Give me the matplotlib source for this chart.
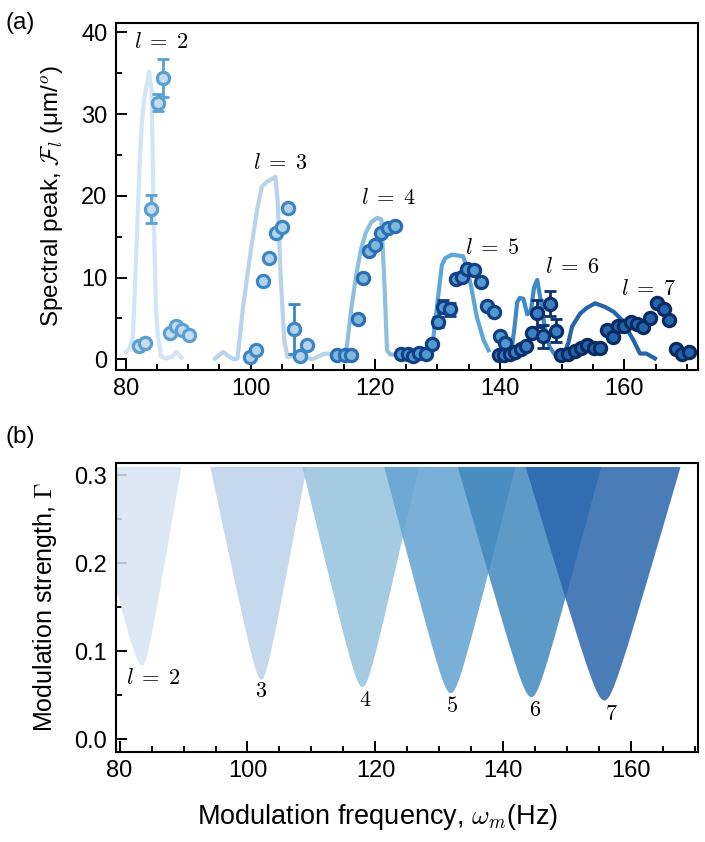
import numpy as np
import matplotlib
matplotlib.use('Agg')
import matplotlib.pyplot as plt
from matplotlib.ticker import MultipleLocator

plt.rcParams['font.family'] = ['Liberation Sans', 'DejaVu Sans']
plt.rcParams['mathtext.fontset'] = 'cm'

# ---- panel (a): measured spectral peaks (points) and simulation (lines)
orders = [2, 3, 4, 5, 6, 7]

line_x = {
    2: [80.0, 80.6, 81.1, 81.4, 81.8, 82.2, 82.6, 82.9, 83.7, 84.1, 84.4, 84.8, 85.1, 85.6, 86.3, 87.4, 88.1, 88.9],
    3: [94.3, 95.6, 96.4, 97.3, 97.9, 98.8, 99.9, 101.0, 101.8, 102.6, 104.0, 104.4, 104.8, 105.4, 105.9, 107.1, 108.5, 109.9, 111.9, 113.5],
    4: [114.3, 115.3, 116.2, 117.0, 117.7, 118.5, 119.4, 120.3, 121.0, 121.5, 121.9, 122.4, 123.5],
    5: [124.5, 126.0, 127.5, 128.5, 129.3, 130.0, 130.7, 131.2, 132.3, 134.1, 134.7, 135.5, 136.3, 137.4, 138.2],
    6: [139.5, 140.8, 141.8, 142.3, 142.8, 143.2, 143.8, 144.4, 145.0, 145.5, 146.0, 146.5, 147.2, 148.0, 148.8, 149.8],
    7: [150.2, 151.0, 151.6, 152.9, 154.0, 155.3, 156.9, 158.3, 159.6, 160.5, 161.4, 162.5, 163.5, 164.9],
}
line_y = {
    2: [0.9, 1.4, 2.6, 8.0, 16.0, 24.0, 29.5, 31.7, 35.2, 33.0, 20.0, 6.5, 3.0, 0.4, 0.1, 0.3, 0.9, 0.2],
    3: [0.1, 0.9, 0.4, 0.0, 0.1, 6.4, 12.6, 18.1, 21.1, 21.7, 22.3, 18.7, 10.5, 2.4, 0.3, 0.4, 0.3, 0.0, 0.7, 0.6],
    4: [0.5, 0.6, 6.4, 10.5, 13.4, 15.5, 16.8, 17.3, 17.1, 9.0, 1.1, 0.6, 0.5],
    5: [0.4, 0.5, 0.6, 1.0, 2.4, 7.0, 11.5, 12.35, 12.8, 12.6, 11.3, 8.5, 5.2, 2.35, 1.1],
    6: [0.4, 0.5, 0.7, 3.5, 7.0, 7.5, 7.4, 5.5, 6.0, 8.8, 9.7, 7.5, 4.0, 1.5, 0.6, 0.5],
    7: [0.5, 2.0, 4.0, 5.6, 6.3, 6.85, 6.4, 5.8, 4.8, 3.6, 2.4, 0.7, 0.7, 0.1],
}

pt_x = {
    2: [82.05, 83.1, 84.0, 85.1, 86.0, 87.0, 88.0, 89.0, 90.15],
    3: [99.9, 100.9, 102.0, 103.0, 104.0, 105.1, 106.0, 107.0, 108.0, 109.0],
    4: [113.9, 115.1, 116.1, 117.2, 118.0, 119.0, 120.0, 121.0, 122.1, 123.2],
    5: [124.1, 125.2, 126.1, 127.1, 128.1, 129.1, 130.1, 130.9, 132.0, 133.0, 133.9, 134.8, 135.9, 137.0, 137.9, 139.0, 140.0, 140.9],
    6: [139.9, 140.7, 141.6, 142.5, 143.4, 144.2, 145.1, 146.0, 147.0, 148.0, 149.0],
    7: [149.9, 151.0, 152.0, 153.0, 154.0, 155.1, 156.1, 157.2, 158.1, 159.0, 160.0, 161.0, 162.0, 163.0, 164.1, 165.2, 166.3, 167.2, 168.3, 169.2, 170.3],
}
pt_y = {
    2: [1.6, 2.0, 18.4, 31.4, 34.4, 3.2, 4.1, 3.6, 3.0],
    3: [0.3, 1.1, 9.6, 12.4, 15.5, 16.2, 18.5, 3.7, 0.4, 1.75],
    4: [0.55, 0.55, 0.55, 4.9, 10.0, 13.3, 14.0, 15.5, 16.1, 16.3],
    5: [0.6, 0.6, 0.4, 0.8, 0.6, 1.9, 4.6, 6.4, 6.1, 9.8, 10.1, 11.1, 10.9, 9.4, 6.5, 5.8, 2.9, 2.0],
    6: [0.5, 0.5, 0.6, 0.9, 1.3, 1.6, 3.2, 5.6, 2.8, 6.8, 3.5],
    7: [0.5, 0.7, 1.0, 1.4, 1.8, 1.35, 1.4, 3.6, 2.75, 4.1, 4.1, 4.6, 4.3, 4.0, 5.1, 6.9, 6.1, 4.8, 1.2, 0.7, 0.9],
}
pt_err = {
    2: [0, 0, 1.7, 1.05, 2.3, 0, 0, 0, 0],
    3: [0, 0, 0, 0, 0, 0, 0, 3.0, 0, 0],
    4: [0] * 10,
    5: [0, 0, 0, 0, 0, 0, 0.6, 0.8, 0.8, 0, 0, 0, 0, 0, 0, 0, 0, 0],
    6: [0, 0, 0, 0, 0, 0, 0, 1.6, 1.4, 1.5, 1.4],
    7: [0] * 21,
}

label_pos_a = {2: (85.7, 38.7), 3: (104.7, 24.0), 4: (122.2, 19.7),
               5: (138.8, 13.6), 6: (151.6, 11.25), 7: (163.9, 8.5)}

# ---- panel (b): instability tongues
tongue_center = [83.5, 102.1, 117.9, 131.7, 144.3, 155.7]
tongue_gmin = [0.0845, 0.0685, 0.060, 0.053, 0.0485, 0.0447]
tongue_left = [74.5, 94.1, 108.5, 121.3, 132.8, 143.4]
tongue_right = [89.6, 109.2, 126.7, 141.8, 155.2, 167.6]
tongue_top = 0.31
tongue_labels = [r'$l\;=\;2$', r'$3$', r'$4$', r'$5$', r'$6$', r'$7$']
label_pos_b = [(85.2, 0.069), (102.1, 0.054), (118.4, 0.0447),
               (131.9, 0.0378), (144.95, 0.0325), (156.9, 0.0288)]

line_col = {2: '#d3e5f4', 3: '#b9d3ec', 4: '#8dc0de', 5: '#5ca6d8', 6: '#3d88c6', 7: '#2464ac'}
face_col = {2: '#c6dcf0', 3: '#b4d1ec', 4: '#80b8da', 5: '#4f9bd0', 6: '#3a80c2', 7: '#2464ad'}
edge_col = {2: '#5aa0d2', 3: '#3b87c6', 4: '#2a6fb5', 5: '#123f86', 6: '#0c2f6e', 7: '#0a2a62'}
fill_col = ['#d6e5f3', '#bcd2eb', '#95c2dd', '#63a3d0', '#4288be', '#2a66ac']

fig = plt.figure(figsize=(7.05, 8.42), dpi=100)
ax1 = fig.add_axes([0.1641, 0.5606, 0.8256, 0.4124])
ax2 = fig.add_axes([0.1641, 0.1072, 0.8259, 0.3433])


def style(ax):
    for s in ax.spines.values():
        s.set_linewidth(1.5)
    ax.tick_params(which='both', direction='in', top=False, right=False,
                   labelsize=17, width=1.4, pad=6)
    ax.tick_params(which='major', length=8)
    ax.tick_params(which='minor', length=4.5)


for l in orders:
    ax1.plot(line_x[l], line_y[l], color=line_col[l], lw=3, zorder=2,
             solid_joinstyle='round')
for l in orders:
    x = np.array(pt_x[l])
    y = np.array(pt_y[l])
    e = np.array(pt_err[l])
    m = e > 0
    if m.any():
        ax1.errorbar(x[m], y[m], yerr=e[m], fmt='none', ecolor=edge_col[l],
                     elinewidth=2, capsize=4, capthick=2, zorder=3)
    ax1.plot(x, y, 'o', ms=8.8, mfc=face_col[l], mec=edge_col[l], mew=2.3,
             zorder=4, ls='none')
    tx, ty = label_pos_a[l]
    ax1.text(tx, ty, r'$l\;=\;%d$' % l, fontsize=16, ha='center', va='center')

ax1.set_xlim(78.35, 171.77)
ax1.set_ylim(-1.31, 41.17)
ax1.xaxis.set_major_locator(MultipleLocator(20))
ax1.xaxis.set_minor_locator(MultipleLocator(5))
ax1.yaxis.set_major_locator(MultipleLocator(10))
ax1.yaxis.set_minor_locator(MultipleLocator(5))
style(ax1)
ax1.set_ylabel(r'Spectral peak, $\mathcal{F}_l$ (μm/$^o$)', fontsize=17.5, labelpad=11)

b = 0.036
for i in range(len(tongue_center)):
    c = tongue_center[i]
    g0 = tongue_gmin[i] - b
    h = np.sqrt((tongue_top - g0) ** 2 - b ** 2)
    kl = h / (c - tongue_left[i])
    kr = h / (tongue_right[i] - c)
    xs = np.linspace(tongue_left[i], tongue_right[i], 400)
    k = np.where(xs < c, kl, kr)
    gs = g0 + np.sqrt(b ** 2 + (k * (xs - c)) ** 2)
    ax2.fill_between(xs, gs, tongue_top, color=fill_col[i], alpha=0.85,
                     lw=0, zorder=2)
    lx, ly = label_pos_b[i]
    ax2.text(lx, ly, tongue_labels[i], fontsize=16, ha='center', va='center')

ax2.set_xlim(79.4, 170.4)
ax2.set_ylim(-0.014, 0.3143)
ax2.xaxis.set_major_locator(MultipleLocator(20))
ax2.xaxis.set_minor_locator(MultipleLocator(5))
ax2.yaxis.set_major_locator(MultipleLocator(0.1))
ax2.yaxis.set_minor_locator(MultipleLocator(0.05))
ax2.yaxis.set_major_formatter(matplotlib.ticker.FormatStrFormatter('%.1f'))
style(ax2)
ax2.set_ylabel(r'Modulation strength, $\Gamma$', fontsize=18, labelpad=11)
ax2.set_xlabel(r'Modulation frequency, $\omega_m$(Hz)', fontsize=19.5)
ax2.xaxis.set_label_coords(0.45, -0.175)

fig.text(0.008, 0.986, '(a)', fontsize=17.5, va='top', ha='left')
fig.text(0.008, 0.494, '(b)', fontsize=17.5, va='top', ha='left')

fig.savefig('out.png', dpi=100)
